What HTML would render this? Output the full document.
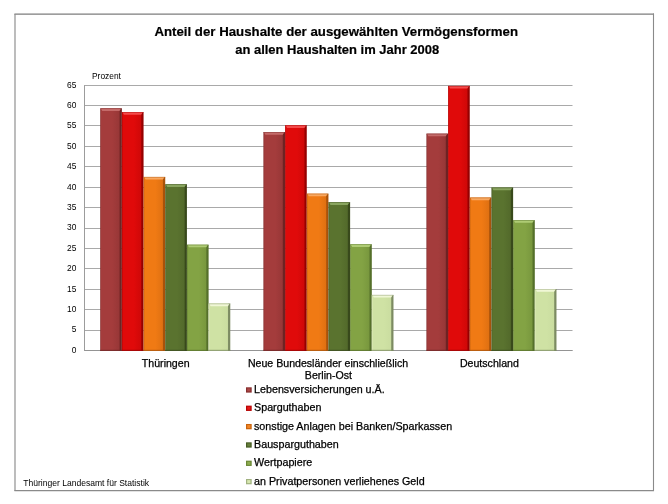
<!DOCTYPE html>
<html lang="de"><head><meta charset="utf-8"><title>Anteil der Haushalte der ausgewählten Vermögensformen</title>
<style>
html,body{margin:0;padding:0;background:#fff;}
body{width:668px;height:504px;overflow:hidden;font-family:"Liberation Sans",sans-serif;}
svg{display:block;position:absolute;left:0;top:0;}
text{font-family:"Liberation Sans",sans-serif;fill:#000;}
.t{font-weight:bold;fill:#000;stroke:#000;stroke-width:0.2px;}
.b{stroke:#000;stroke-width:0.25px;}
</style></head><body>
<svg width="668" height="504" viewBox="0 0 668 504">
<defs>
<linearGradient id="g0" x1="0" y1="0" x2="1" y2="0"><stop offset="0" stop-color="#842d2d"/><stop offset="0.06" stop-color="#A43C3C"/><stop offset="0.55" stop-color="#A43C3C"/><stop offset="0.87" stop-color="#983737"/><stop offset="0.92" stop-color="#6E2323"/><stop offset="1" stop-color="#6E2323"/></linearGradient>
<linearGradient id="g1" x1="0" y1="0" x2="1" y2="0"><stop offset="0" stop-color="#b40404"/><stop offset="0.06" stop-color="#E00A0A"/><stop offset="0.55" stop-color="#E00A0A"/><stop offset="0.87" stop-color="#d00808"/><stop offset="0.92" stop-color="#960000"/><stop offset="1" stop-color="#960000"/></linearGradient>
<linearGradient id="g2" x1="0" y1="0" x2="1" y2="0"><stop offset="0" stop-color="#c5620e"/><stop offset="0.06" stop-color="#F07A14"/><stop offset="0.55" stop-color="#F07A14"/><stop offset="0.87" stop-color="#e07112"/><stop offset="0.92" stop-color="#A8520A"/><stop offset="1" stop-color="#A8520A"/></linearGradient>
<linearGradient id="g3" x1="0" y1="0" x2="1" y2="0"><stop offset="0" stop-color="#465a23"/><stop offset="0.06" stop-color="#5A732F"/><stop offset="0.55" stop-color="#5A732F"/><stop offset="0.87" stop-color="#536a2b"/><stop offset="0.92" stop-color="#38491B"/><stop offset="1" stop-color="#38491B"/></linearGradient>
<linearGradient id="g4" x1="0" y1="0" x2="1" y2="0"><stop offset="0" stop-color="#678434"/><stop offset="0.06" stop-color="#83A344"/><stop offset="0.55" stop-color="#83A344"/><stop offset="0.87" stop-color="#79983e"/><stop offset="0.92" stop-color="#55702A"/><stop offset="1" stop-color="#55702A"/></linearGradient>
<linearGradient id="g5" x1="0" y1="0" x2="1" y2="0"><stop offset="0" stop-color="#e0ecbd"/><stop offset="0.06" stop-color="#CFE2A4"/><stop offset="0.55" stop-color="#CFE2A4"/><stop offset="0.87" stop-color="#cadda0"/><stop offset="0.92" stop-color="#7C8B62"/><stop offset="1" stop-color="#7C8B62"/></linearGradient>
</defs>
<rect x="0" y="0" width="668" height="504" fill="#ffffff"/>
<line x1="14.4" y1="14.1" x2="654" y2="14.1" stroke="#7c7c7c" stroke-width="1.4"/>
<line x1="15.0" y1="14" x2="15.0" y2="491" stroke="#909090" stroke-width="1.2"/>
<line x1="653.5" y1="13.4" x2="653.5" y2="491" stroke="#8a8a8a" stroke-width="1.1"/>
<line x1="14.4" y1="490.6" x2="654" y2="490.6" stroke="#8a8a8a" stroke-width="1.1"/>
<line x1="84.5" y1="350.50" x2="572.5" y2="350.50" stroke="#a9a9a9" stroke-width="1"/>
<line x1="84.5" y1="330.50" x2="572.5" y2="330.50" stroke="#a9a9a9" stroke-width="1"/>
<line x1="84.5" y1="309.50" x2="572.5" y2="309.50" stroke="#a9a9a9" stroke-width="1"/>
<line x1="84.5" y1="289.50" x2="572.5" y2="289.50" stroke="#a9a9a9" stroke-width="1"/>
<line x1="84.5" y1="268.50" x2="572.5" y2="268.50" stroke="#a9a9a9" stroke-width="1"/>
<line x1="84.5" y1="248.50" x2="572.5" y2="248.50" stroke="#a9a9a9" stroke-width="1"/>
<line x1="84.5" y1="228.50" x2="572.5" y2="228.50" stroke="#a9a9a9" stroke-width="1"/>
<line x1="84.5" y1="207.50" x2="572.5" y2="207.50" stroke="#a9a9a9" stroke-width="1"/>
<line x1="84.5" y1="187.50" x2="572.5" y2="187.50" stroke="#a9a9a9" stroke-width="1"/>
<line x1="84.5" y1="166.50" x2="572.5" y2="166.50" stroke="#a9a9a9" stroke-width="1"/>
<line x1="84.5" y1="146.50" x2="572.5" y2="146.50" stroke="#a9a9a9" stroke-width="1"/>
<line x1="84.5" y1="125.50" x2="572.5" y2="125.50" stroke="#a9a9a9" stroke-width="1"/>
<line x1="84.5" y1="105.50" x2="572.5" y2="105.50" stroke="#a9a9a9" stroke-width="1"/>
<line x1="84.5" y1="85.50" x2="572.5" y2="85.50" stroke="#a9a9a9" stroke-width="1"/>
<line x1="84.5" y1="85.1" x2="84.5" y2="351.0" stroke="#9c9c9c" stroke-width="1"/>
<line x1="84.5" y1="350.50" x2="572.5" y2="350.50" stroke="#949494" stroke-width="1"/>
<rect x="100.20" y="108.37" width="21.68" height="242.53" fill="url(#g0)"/>
<polygon points="100.80,108.37 121.28,108.37 119.48,110.97 102.20,110.97" fill="#C46A69"/>
<line x1="100.20" y1="108.67" x2="121.88" y2="108.67" stroke="#6E2323" stroke-width="0.6" opacity="0.7"/>
<rect x="100.20" y="349.80" width="21.68" height="1.1" fill="#6E2323" opacity="0.75"/>
<rect x="121.88" y="112.05" width="21.68" height="238.85" fill="url(#g1)"/>
<polygon points="122.48,112.05 142.96,112.05 141.16,114.65 123.88,114.65" fill="#F44A4A"/>
<line x1="121.88" y1="112.35" x2="143.56" y2="112.35" stroke="#960000" stroke-width="0.6" opacity="0.7"/>
<rect x="121.88" y="349.80" width="21.68" height="1.1" fill="#960000" opacity="0.75"/>
<rect x="143.56" y="176.97" width="21.68" height="173.93" fill="url(#g2)"/>
<polygon points="144.16,176.97 164.64,176.97 162.84,179.57 145.56,179.57" fill="#F9A860"/>
<line x1="143.56" y1="177.27" x2="165.24" y2="177.27" stroke="#A8520A" stroke-width="0.6" opacity="0.7"/>
<rect x="143.56" y="349.80" width="21.68" height="1.1" fill="#A8520A" opacity="0.75"/>
<rect x="165.24" y="184.32" width="21.68" height="166.58" fill="url(#g3)"/>
<polygon points="165.84,184.32 186.32,184.32 184.52,186.92 167.24,186.92" fill="#88A45E"/>
<line x1="165.24" y1="184.62" x2="186.92" y2="184.62" stroke="#38491B" stroke-width="0.6" opacity="0.7"/>
<rect x="165.24" y="349.80" width="21.68" height="1.1" fill="#38491B" opacity="0.75"/>
<rect x="186.92" y="244.75" width="21.68" height="106.15" fill="url(#g4)"/>
<polygon points="187.52,244.75 208.00,244.75 206.20,247.35 188.92,247.35" fill="#AECB74"/>
<line x1="186.92" y1="245.05" x2="208.60" y2="245.05" stroke="#55702A" stroke-width="0.6" opacity="0.7"/>
<rect x="186.92" y="349.80" width="21.68" height="1.1" fill="#55702A" opacity="0.75"/>
<rect x="208.60" y="303.54" width="21.68" height="47.36" fill="url(#g5)"/>
<polygon points="209.20,303.54 229.68,303.54 227.88,306.14 210.60,306.14" fill="#F0F7D6"/>
<line x1="208.60" y1="303.84" x2="230.28" y2="303.84" stroke="#7C8B62" stroke-width="0.6" opacity="0.7"/>
<rect x="208.60" y="349.80" width="21.68" height="1.1" fill="#7C8B62" opacity="0.75"/>
<rect x="263.40" y="132.06" width="21.68" height="218.84" fill="url(#g0)"/>
<polygon points="264.00,132.06 284.48,132.06 282.68,134.66 265.40,134.66" fill="#C46A69"/>
<line x1="263.40" y1="132.36" x2="285.08" y2="132.36" stroke="#6E2323" stroke-width="0.6" opacity="0.7"/>
<rect x="263.40" y="349.80" width="21.68" height="1.1" fill="#6E2323" opacity="0.75"/>
<rect x="285.08" y="125.32" width="21.68" height="225.58" fill="url(#g1)"/>
<polygon points="285.68,125.32 306.16,125.32 304.36,127.92 287.08,127.92" fill="#F44A4A"/>
<line x1="285.08" y1="125.62" x2="306.76" y2="125.62" stroke="#960000" stroke-width="0.6" opacity="0.7"/>
<rect x="285.08" y="349.80" width="21.68" height="1.1" fill="#960000" opacity="0.75"/>
<rect x="306.76" y="193.71" width="21.68" height="157.19" fill="url(#g2)"/>
<polygon points="307.36,193.71 327.84,193.71 326.04,196.31 308.76,196.31" fill="#F9A860"/>
<line x1="306.76" y1="194.01" x2="328.44" y2="194.01" stroke="#A8520A" stroke-width="0.6" opacity="0.7"/>
<rect x="306.76" y="349.80" width="21.68" height="1.1" fill="#A8520A" opacity="0.75"/>
<rect x="328.44" y="202.28" width="21.68" height="148.62" fill="url(#g3)"/>
<polygon points="329.04,202.28 349.52,202.28 347.72,204.88 330.44,204.88" fill="#88A45E"/>
<line x1="328.44" y1="202.58" x2="350.12" y2="202.58" stroke="#38491B" stroke-width="0.6" opacity="0.7"/>
<rect x="328.44" y="349.80" width="21.68" height="1.1" fill="#38491B" opacity="0.75"/>
<rect x="350.12" y="244.34" width="21.68" height="106.56" fill="url(#g4)"/>
<polygon points="350.72,244.34 371.20,244.34 369.40,246.94 352.12,246.94" fill="#AECB74"/>
<line x1="350.12" y1="244.64" x2="371.80" y2="244.64" stroke="#55702A" stroke-width="0.6" opacity="0.7"/>
<rect x="350.12" y="349.80" width="21.68" height="1.1" fill="#55702A" opacity="0.75"/>
<rect x="371.80" y="294.97" width="21.68" height="55.93" fill="url(#g5)"/>
<polygon points="372.40,294.97 392.88,294.97 391.08,297.57 373.80,297.57" fill="#F0F7D6"/>
<line x1="371.80" y1="295.27" x2="393.48" y2="295.27" stroke="#7C8B62" stroke-width="0.6" opacity="0.7"/>
<rect x="371.80" y="349.80" width="21.68" height="1.1" fill="#7C8B62" opacity="0.75"/>
<rect x="426.40" y="133.69" width="21.68" height="217.21" fill="url(#g0)"/>
<polygon points="427.00,133.69 447.48,133.69 445.68,136.29 428.40,136.29" fill="#C46A69"/>
<line x1="426.40" y1="133.99" x2="448.08" y2="133.99" stroke="#6E2323" stroke-width="0.6" opacity="0.7"/>
<rect x="426.40" y="349.80" width="21.68" height="1.1" fill="#6E2323" opacity="0.75"/>
<rect x="448.08" y="85.92" width="21.68" height="264.98" fill="url(#g1)"/>
<polygon points="448.68,85.92 469.16,85.92 467.36,88.52 450.08,88.52" fill="#F44A4A"/>
<line x1="448.08" y1="86.22" x2="469.76" y2="86.22" stroke="#960000" stroke-width="0.6" opacity="0.7"/>
<rect x="448.08" y="349.80" width="21.68" height="1.1" fill="#960000" opacity="0.75"/>
<rect x="469.76" y="197.59" width="21.68" height="153.31" fill="url(#g2)"/>
<polygon points="470.36,197.59 490.84,197.59 489.04,200.19 471.76,200.19" fill="#F9A860"/>
<line x1="469.76" y1="197.89" x2="491.44" y2="197.89" stroke="#A8520A" stroke-width="0.6" opacity="0.7"/>
<rect x="469.76" y="349.80" width="21.68" height="1.1" fill="#A8520A" opacity="0.75"/>
<rect x="491.44" y="187.59" width="21.68" height="163.31" fill="url(#g3)"/>
<polygon points="492.04,187.59 512.52,187.59 510.72,190.19 493.44,190.19" fill="#88A45E"/>
<line x1="491.44" y1="187.89" x2="513.12" y2="187.89" stroke="#38491B" stroke-width="0.6" opacity="0.7"/>
<rect x="491.44" y="349.80" width="21.68" height="1.1" fill="#38491B" opacity="0.75"/>
<rect x="513.12" y="220.25" width="21.68" height="130.65" fill="url(#g4)"/>
<polygon points="513.72,220.25 534.20,220.25 532.40,222.85 515.12,222.85" fill="#AECB74"/>
<line x1="513.12" y1="220.55" x2="534.80" y2="220.55" stroke="#55702A" stroke-width="0.6" opacity="0.7"/>
<rect x="513.12" y="349.80" width="21.68" height="1.1" fill="#55702A" opacity="0.75"/>
<rect x="534.80" y="289.05" width="21.68" height="61.85" fill="url(#g5)"/>
<polygon points="535.40,289.05 555.88,289.05 554.08,291.65 536.80,291.65" fill="#F0F7D6"/>
<line x1="534.80" y1="289.35" x2="556.48" y2="289.35" stroke="#7C8B62" stroke-width="0.6" opacity="0.7"/>
<rect x="534.80" y="349.80" width="21.68" height="1.1" fill="#7C8B62" opacity="0.75"/>
<text x="76.4" y="352.90" font-size="8.4" text-anchor="end">0</text>
<text x="76.4" y="332.48" font-size="8.4" text-anchor="end">5</text>
<text x="76.4" y="312.07" font-size="8.4" text-anchor="end">10</text>
<text x="76.4" y="291.65" font-size="8.4" text-anchor="end">15</text>
<text x="76.4" y="271.24" font-size="8.4" text-anchor="end">20</text>
<text x="76.4" y="250.82" font-size="8.4" text-anchor="end">25</text>
<text x="76.4" y="230.41" font-size="8.4" text-anchor="end">30</text>
<text x="76.4" y="209.99" font-size="8.4" text-anchor="end">35</text>
<text x="76.4" y="189.58" font-size="8.4" text-anchor="end">40</text>
<text x="76.4" y="169.16" font-size="8.4" text-anchor="end">45</text>
<text x="76.4" y="148.75" font-size="8.4" text-anchor="end">50</text>
<text x="76.4" y="128.33" font-size="8.4" text-anchor="end">55</text>
<text x="76.4" y="107.92" font-size="8.4" text-anchor="end">60</text>
<text x="76.4" y="87.50" font-size="8.4" text-anchor="end">65</text>
<text x="92" y="78.8" font-size="8.4">Prozent</text>
<text class="t" x="154.4" y="36.1" font-size="13.2" textLength="363.6" lengthAdjust="spacingAndGlyphs">Anteil der Haushalte der ausgewählten Vermögensformen</text>
<text class="t" x="235.2" y="54.0" font-size="13.2" textLength="204" lengthAdjust="spacingAndGlyphs">an allen Haushalten im Jahr 2008</text>
<text x="165.7" y="366.8" font-size="10.6" text-anchor="middle" class="b">Thüringen</text>
<text x="328" y="366.7" font-size="10.6" text-anchor="middle" class="b">Neue Bundesländer einschließlich</text>
<text x="328.4" y="379.2" font-size="10.6" text-anchor="middle" class="b">Berlin-Ost</text>
<text x="489.4" y="366.8" font-size="10.6" text-anchor="middle" class="b">Deutschland</text>
<rect x="246.0" y="387.30" width="5.7" height="5.3" fill="#862e2e"/>
<rect x="247.2" y="388.40" width="3.2" height="3.0" fill="#ac4847"/>
<text class="b" x="254.0" y="392.90" font-size="10.74">Lebensversicherungen u.Ä.</text>
<rect x="246.0" y="405.64" width="5.7" height="5.3" fill="#b70404"/>
<rect x="247.2" y="406.74" width="3.2" height="3.0" fill="#e51a1a"/>
<text class="b" x="254.0" y="411.24" font-size="10.74">Sparguthaben</text>
<rect x="246.0" y="423.98" width="5.7" height="5.3" fill="#c8640e"/>
<rect x="247.2" y="425.08" width="3.2" height="3.0" fill="#f28627"/>
<text class="b" x="254.0" y="429.58" font-size="10.74">sonstige Anlagen bei Banken/Sparkassen</text>
<rect x="246.0" y="442.32" width="5.7" height="5.3" fill="#475c24"/>
<rect x="247.2" y="443.42" width="3.2" height="3.0" fill="#667f3b"/>
<text class="b" x="254.0" y="447.92" font-size="10.74">Bausparguthaben</text>
<rect x="246.0" y="460.66" width="5.7" height="5.3" fill="#6a8736"/>
<rect x="247.2" y="461.76" width="3.2" height="3.0" fill="#8ead50"/>
<text class="b" x="254.0" y="466.26" font-size="10.74">Wertpapiere</text>
<rect x="246.0" y="479.00" width="5.7" height="5.3" fill="#a1b280"/>
<rect x="247.2" y="480.10" width="3.2" height="3.0" fill="#d7e7b0"/>
<text class="b" x="254.0" y="484.60" font-size="10.74">an Privatpersonen verliehenes Geld</text>
<text x="23.2" y="485.8" font-size="8.55" fill="#222">Thüringer Landesamt für Statistik</text>
</svg></body></html>
